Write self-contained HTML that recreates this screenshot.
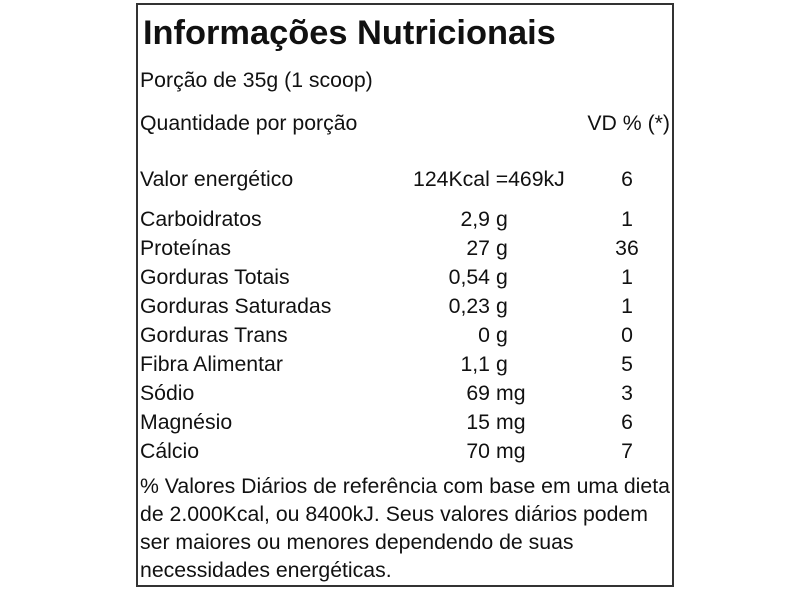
<!DOCTYPE html>
<html>
<head>
<meta charset="utf-8">
<style>
  html, body { margin: 0; padding: 0; background: #ffffff; }
  body { width: 810px; height: 590px; overflow: hidden; }
  svg { display: block; }
  text { font-family: "Liberation Sans", Arial, sans-serif; fill: #111; font-size: 21.25px; }
  .title { font-size: 34.4px; font-weight: bold; }
  .r { text-anchor: end; }
  .c { text-anchor: middle; }
</style>
</head>
<body>
<svg width="810" height="590" viewBox="0 0 810 590" xmlns="http://www.w3.org/2000/svg">
  <rect x="0" y="0" width="810" height="590" fill="#ffffff"/>
  <rect x="137" y="4" width="536" height="582" fill="none" stroke="#333" stroke-width="2"/>

  <text class="title" x="143" y="44">Informações Nutricionais</text>

  <text x="140" y="87">Porção de 35g (1 scoop)</text>

  <text x="140" y="130">Quantidade por porção</text>
  <text class="r" x="670" y="130">VD % (*)</text>

  <text x="140" y="186">Valor energético</text>
  <text x="413" y="186">124Kcal =469kJ</text>
  <text class="c" x="627" y="186">6</text>

  <text x="140" y="226">Carboidratos</text>
  <text class="r" x="490" y="226">2,9</text><text x="496" y="226">g</text>
  <text class="c" x="627" y="226">1</text>

  <text x="140" y="255">Proteínas</text>
  <text class="r" x="490" y="255">27</text><text x="496" y="255">g</text>
  <text class="c" x="627" y="255">36</text>

  <text x="140" y="284">Gorduras Totais</text>
  <text class="r" x="490" y="284">0,54</text><text x="496" y="284">g</text>
  <text class="c" x="627" y="284">1</text>

  <text x="140" y="313">Gorduras Saturadas</text>
  <text class="r" x="490" y="313">0,23</text><text x="496" y="313">g</text>
  <text class="c" x="627" y="313">1</text>

  <text x="140" y="342">Gorduras Trans</text>
  <text class="r" x="490" y="342">0</text><text x="496" y="342">g</text>
  <text class="c" x="627" y="342">0</text>

  <text x="140" y="371">Fibra Alimentar</text>
  <text class="r" x="490" y="371">1,1</text><text x="496" y="371">g</text>
  <text class="c" x="627" y="371">5</text>

  <text x="140" y="400">Sódio</text>
  <text class="r" x="490" y="400">69</text><text x="496" y="400">mg</text>
  <text class="c" x="627" y="400">3</text>

  <text x="140" y="429">Magnésio</text>
  <text class="r" x="490" y="429">15</text><text x="496" y="429">mg</text>
  <text class="c" x="627" y="429">6</text>

  <text x="140" y="458">Cálcio</text>
  <text class="r" x="490" y="458">70</text><text x="496" y="458">mg</text>
  <text class="c" x="627" y="458">7</text>

  <text x="140" y="493">% Valores Diários de referência com base em uma dieta</text>
  <text x="140" y="521">de 2.000Kcal, ou 8400kJ. Seus valores diários podem</text>
  <text x="140" y="549">ser maiores ou menores dependendo de suas</text>
  <text x="140" y="577">necessidades energéticas.</text>
</svg>
</body>
</html>
